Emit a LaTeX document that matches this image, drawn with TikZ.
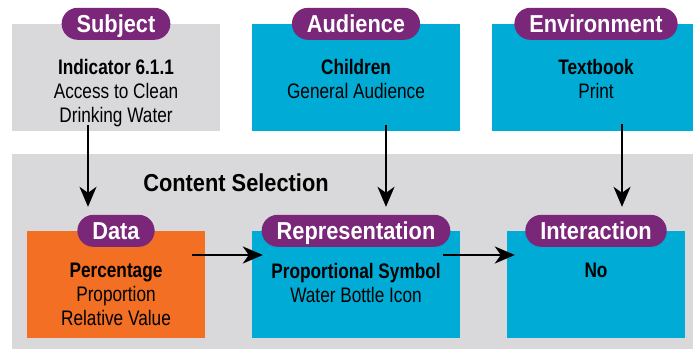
\documentclass[tikz,border=0pt]{standalone}
\usepackage{fontspec}
\setmainfont[FakeStretch=0.82]{Liberation Sans}
\newfontfamily\headfont[FakeStretch=0.89]{Liberation Sans}
\usetikzlibrary{positioning,arrows.meta}
\definecolor{panelgray}{RGB}{217,217,219}
\definecolor{boxblue}{RGB}{0,172,214}
\definecolor{boxorange}{RGB}{242,111,36}
\definecolor{pillpurple}{RGB}{122,38,121}
\begin{document}
\begin{tikzpicture}[x=1pt,y=-1pt,
	box/.style = {minimum height=107pt, inner sep=0pt},
	pill/.style = {fill=pillpurple, text=white, rounded corners=16pt, minimum height=32pt, inner xsep=15pt, inner ysep=0pt, text height=17pt, text depth=0pt, font=\headfont\fontsize{24.5pt}{28pt}\selectfont\bfseries},
	txt/.style = {align=center, inner sep=0pt, font=\fontsize{21pt}{24pt}\selectfont},
	link/.style = {line width=2pt, -{Stealth[length=20pt,width=17pt,inset=6pt]}}]
			\useasboundingbox (0,0) rectangle (693,350);
			% content selection panel
			\node[box, fill=panelgray, minimum width=688pt, minimum height=195pt] (sel) at (356,251.5) {};
			\node[anchor=base, font=\headfont\fontsize{24.5pt}{28pt}\selectfont\bfseries] (title) at (236,191) {Content Selection};
			% top row
			\node[box, fill=panelgray, minimum width=208pt] (subj) at (116,77.5) {};
			\node[box, fill=boxblue, minimum width=208pt] (aud) at (356,77.5) {};
			\node[box, fill=boxblue, minimum width=208pt] (env) at (596,77.5) {};
			% bottom row
			\node[box, fill=boxorange, minimum width=178pt] (data) at (116,284.5) {};
			\node[box, fill=boxblue, minimum width=208pt] (rep) at (356,284.5) {};
			\node[box, fill=boxblue, minimum width=178pt] (inter) at (596,284.5) {};
			% labels
			\node[pill] (subjp) at (subj.north) {Subject};
			\node[pill] (audp) at (aud.north) {Audience};
			\node[pill] (envp) at (env.north) {Environment};
			\node[pill] (datap) at (data.north) {Data};
			\node[pill] (repp) at (rep.north) {Representation};
			\node[pill] (interp) at (inter.north) {Interaction};
			% texts
			\node[txt, below=35pt of subj.north] (subjt) {\textbf{Indicator 6.1.1}\\Access to Clean\\Drinking Water};
			\node[txt, below=35pt of aud.north] (audt) {\textbf{Children}\\General Audience};
			\node[txt, below=35pt of env.north] (envt) {\textbf{Textbook}\\Print};
			\node[txt, below=32pt of data.north] (datat) {\textbf{Percentage}\\Proportion\\Relative Value};
			\node[txt, below=32pt of rep.north] (rept) {\textbf{Proportional Symbol}\\Water Bottle Icon};
			\node[txt, below=32pt of inter.north] (intert) {\textbf{No}};
			% arrows
			\draw[link] ([xshift=-28pt,yshift=6pt]subj.south) -- ([xshift=-28pt,yshift=24pt]data.north);
			\draw[link] ([xshift=30pt,yshift=6pt]aud.south) -- ([xshift=30pt,yshift=24pt]rep.north);
			\draw[link] ([xshift=26pt,yshift=7pt]env.south) -- ([xshift=26pt,yshift=24pt]inter.north);
			\draw[link] ([xshift=-13pt,yshift=29.5pt]data.east) -- ([xshift=11pt,yshift=29.5pt]rep.west);
			\draw[link] ([xshift=-17pt,yshift=29.5pt]rep.east) -- ([xshift=8pt,yshift=29.5pt]inter.west);
		\end{tikzpicture}
\end{document}
